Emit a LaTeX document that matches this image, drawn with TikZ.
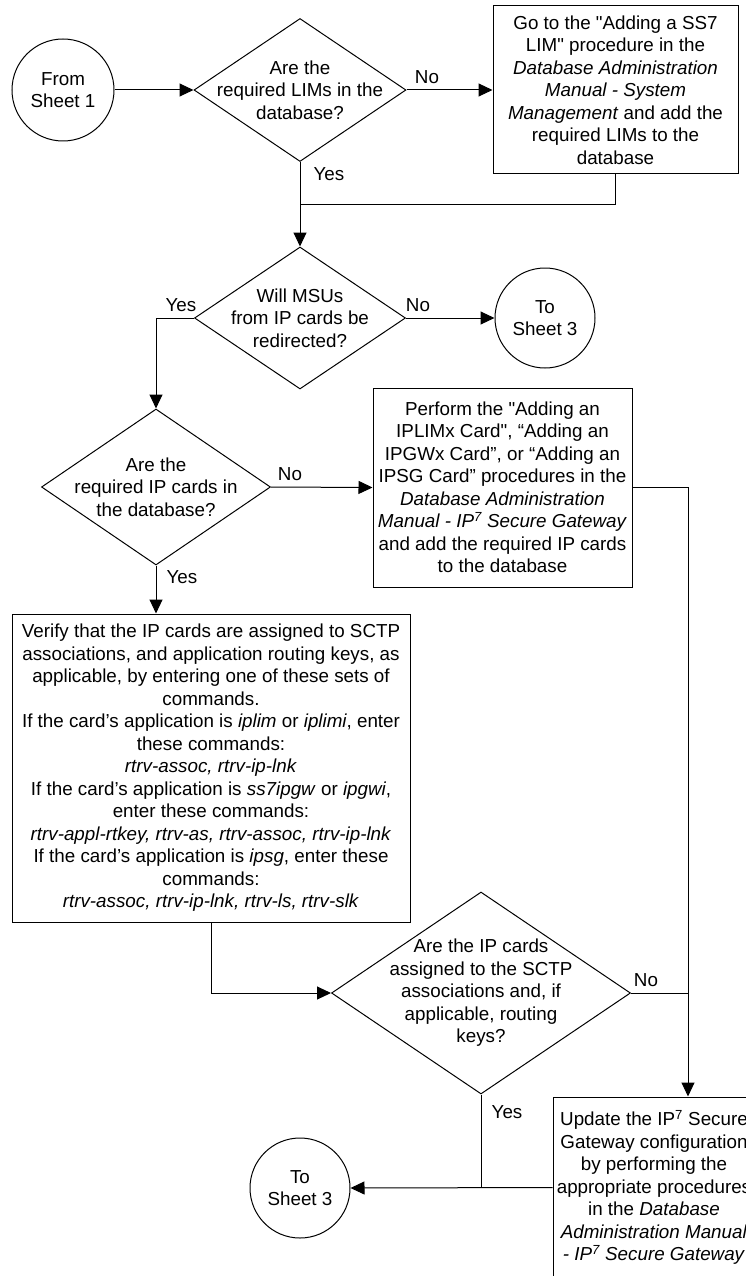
\documentclass[tikz,border=0pt]{standalone}
\usepackage{fontspec}
\setmainfont{Liberation Sans}[Ligatures=TeXOff]
\usetikzlibrary{shapes.geometric,arrows.meta}
\begin{document}
\begin{tikzpicture}[x=1pt,y=-1pt,
  every node/.style={font=\fontsize{18.8}{22.5}\selectfont},
  line/.style={line width=1pt, draw=black},
  arr/.style={line, -{Triangle[length=14pt,width=13pt]}},
  dec/.style={diamond, draw, line width=1pt, inner sep=0pt},
  box/.style={rectangle, draw, line width=1pt, inner sep=0pt, align=center},
  circ/.style={circle, draw, line width=1pt, inner sep=0pt, align=center},
  lbl/.style={inner sep=0pt}
]
\useasboundingbox (0,0) rectangle (746,1276);

% terminals
\node[circ, minimum size=102pt] (from1) at (63,90) {From\\Sheet 1};
\node[circ, minimum size=100pt] (to3a) at (545,318) {To\\Sheet 3};
\node[circ, minimum size=100pt] (to3b) at (300,1188) {To\\Sheet 3};

% decisions
\node[dec, minimum width=212pt, minimum height=143pt,
  label={[align=center]center:Are the\\required LIMs in the\\database?}] (d1) at (300,90) {};
\node[dec, minimum width=211pt, minimum height=142pt,
  label={[align=center]center:Will MSUs\\from IP cards be\\redirected?}] (d2) at (300,318) {};
\node[dec, minimum width=229pt, minimum height=156pt,
  label={[align=center]center:Are the\\required IP cards in\\the database?}] (d3) at (156,487) {};
\node[dec, minimum width=299pt, minimum height=202pt,
  label={[align=center]center:Are the IP cards\\assigned to the SCTP\\associations and, if\\applicable, routing\\keys?}] (d4) at (481,993) {};

% process boxes
\node[box, minimum width=245pt, minimum height=168pt] (b1) at (615.5,90)
  {Go to the "Adding a SS7\\LIM" procedure in the\\\textit{Database Administration}\\\textit{Manual - System}\\\textit{Management} and add the\\required LIMs to the\\database};
\node[box, minimum width=259pt, minimum height=199pt] (b2) at (502.5,487.5)
  {Perform the "Adding an\\IPLIMx Card", “Adding an\\IPGWx Card”, or “Adding an\\IPSG Card” procedures in the\\\textit{Database Administration}\\\textit{Manual - IP\textsuperscript{7} Secure Gateway}\\and add the required IP cards\\to the database};
\node[box, minimum width=398pt, minimum height=308pt] (b3) at (211,768)
  {Verify that the IP cards are assigned to SCTP\\associations, and application routing keys, as\\applicable, by entering one of these sets of\\commands.\\If the card’s application is \textit{iplim} or \textit{iplimi}, enter\\these commands:\\\textit{rtrv-assoc, rtrv-ip-lnk}\\If the card’s application is \textit{ss7ipgw} or \textit{ipgwi},\\enter these commands:\\\textit{rtrv-appl-rtkey, rtrv-as, rtrv-assoc, rtrv-ip-lnk}\\If the card’s application is \textit{ipsg}, enter these\\commands:\\\textit{rtrv-assoc, rtrv-ip-lnk, rtrv-ls, rtrv-slk}};
\node[box, minimum width=202pt, minimum height=181pt] (b4) at (654,1187.5)
  {Update the IP\textsuperscript{7} Secure\\Gateway configuration\\by performing the\\appropriate procedures\\in the \textit{Database}\\\textit{Administration Manual}\\\textit{- IP\textsuperscript{7} Secure Gateway}};

% branch labels
\node[lbl] (n1) at (427,77) {No};
\node[lbl] (y1) at (329,174) {Yes};
\node[lbl] (y2) at (181,305) {Yes};
\node[lbl] (n2) at (418,305) {No};
\node[lbl] (n3) at (290,474) {No};
\node[lbl] (y3) at (182,577) {Yes};
\node[lbl] (n4) at (646,980) {No};
\node[lbl] (y4) at (507,1112) {Yes};

% junctions
\coordinate (j1) at (300,204);
\coordinate (j2) at (688,487.5);

% connectors
\draw[arr] (from1.east) -- (d1.west);
\draw[arr] (d1.east) -- (b1.west);
\draw[arr] (d1.south) -- (d2.north);
\draw[line] (b1.south) |- (j1);
\draw[arr] (d2.east) -- (to3a.west);
\draw[arr] (d2.west) -| (d3.north);
\draw[arr] (d3.east) -- (b2.west);
\draw[arr] (d3.south) -- (d3.south |- b3.north);
\draw[arr] (b2.east) -- (j2) -- (j2 |- b4.north);
\draw[line] (d4.east) -- (d4.east -| j2);
\draw[arr] (b3.south) |- (d4.west);
\draw[line] (d4.south) -- (d4.south |- b4.west);
\draw[arr] (b4.west) -- (to3b.east);
\end{tikzpicture}
\end{document}
